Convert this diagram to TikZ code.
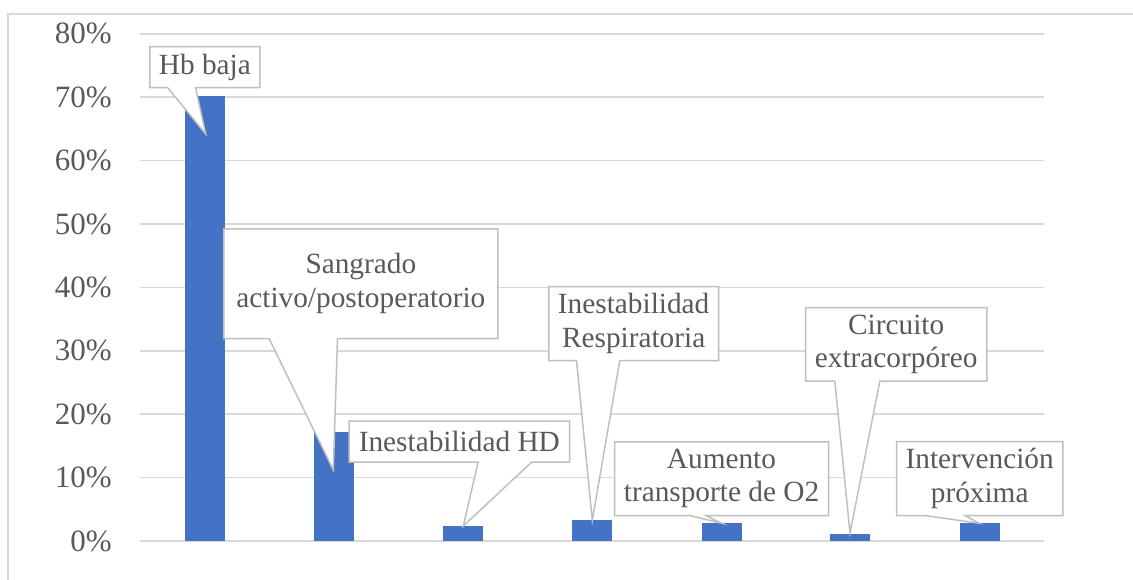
\documentclass[tikz,border=0pt]{standalone}
\usepackage{fontspec}
\setmainfont{Liberation Serif}
\usetikzlibrary{calc}
\definecolor{gridgray}{HTML}{D9D9D9}
\definecolor{boxgray}{HTML}{BFBFBF}
\definecolor{txtgray}{HTML}{595959}
\definecolor{barblue}{HTML}{4472C4}
\pgfdeclarelayer{back}
\pgfdeclarelayer{mid}
\pgfsetlayers{back,mid,main}
% callout outline: box plus pointer from the bottom edge to a tip
\newcommand\drawcallout[4]{%
  \draw[callout] (#1.north west) -- (#1.north east) -- (#1.south east)
    -- ([xshift=#3pt]#1.south west) -- (#4) -- ([xshift=#2pt]#1.south west)
    -- (#1.south west) -- cycle;}
\begin{document}
\begin{tikzpicture}[x=1pt,y=-1pt,
  frame/.style={draw=gridgray,line width=1.5pt},
  gridline/.style={draw=gridgray,line width=1.5pt},
  bar/.style={fill=barblue,draw=none,minimum width=40pt,inner sep=0pt,anchor=south},
  tick/.style={anchor=east,text=txtgray,font=\fontsize{31}{35}\selectfont,inner sep=0pt},
  lbl/.style={text=txtgray,font=\fontsize{29.3}{33.5}\selectfont,align=center,inner sep=0pt},
  callout/.style={draw=boxgray,fill=white,line width=1.5pt,line join=miter}]
\useasboundingbox (0,0) rectangle (1133,579);

% chart frame
\draw[frame] (8,580) -- (8,14) -- (1134,14);

% gridlines and value axis
\begin{pgfonlayer}{back}
\foreach \i in {0,...,8}{
  \pgfmathtruncatemacro\p{10*\i}
  \draw[gridline] (140,{541-63.4*\i}) -- (1044,{541-63.4*\i});
  \node[tick] (t\i) at (112,{541-63.4*\i}) {\p\%};
}
% bars
\foreach \n/\x/\v in {1/205/70.2, 2/333.5/17.2, 3/462.5/2.4, 4/592/3.3, 5/721.5/2.8, 6/850/1.15, 7/979.5/2.8}{
  \node[bar,minimum height={\v*6.34pt}] (b\n) at (\x,541) {};
}
\end{pgfonlayer}

% pointer tips
\coordinate (tip1) at (205.7,134);
\coordinate (tip2) at (333.3,470);
\coordinate (tip3) at (463.3,526);
\coordinate (tip4) at (592.3,520.3);
\coordinate (tip5) at (721.7,523.3);
\coordinate (tip6) at (850,533.3);
\coordinate (tip7) at (979.3,523.3);

% labels
\node[lbl,minimum width=109.7pt,minimum height=40.6pt] (hb) at (204.85,67) {Hb baja};
\node[lbl,minimum width=273.7pt,minimum height=109.3pt] (sang) at (360.85,283.65) {Sangrado\\activo/postoperatorio};
\node[lbl,minimum width=220pt,minimum height=40.7pt] (hd) at (459.3,441.65) {Inestabilidad HD};
\node[lbl,minimum width=169.3pt,minimum height=73.6pt] (resp) at (633.65,323.5) {Inestabilidad\\Respiratoria};
\node[lbl,minimum width=213.6pt,minimum height=73.3pt] (otwo) at (721.5,478.65) {Aumento\\transporte de O2};
\node[lbl,minimum width=181pt,minimum height=73.3pt] (circ) at (896.2,344.35) {Circuito\\extracorpóreo};
\node[lbl,minimum width=166pt,minimum height=73.6pt] (interv) at (979.7,478.5) {Intervención\\próxima};

% callout shapes behind the label text
\begin{pgfonlayer}{mid}
\drawcallout{hb}{17.7}{45.7}{tip1}
\drawcallout{sang}{45.3}{113.7}{tip2}
\drawcallout{hd}{129}{182.4}{tip3}
\drawcallout{resp}{27.7}{71}{tip4}
\drawcallout{otwo}{75.3}{91.3}{tip5}
\drawcallout{circ}{29.3}{74.3}{tip6}
\drawcallout{interv}{28.3}{68.3}{tip7}
\end{pgfonlayer}
\end{tikzpicture}
\end{document}
